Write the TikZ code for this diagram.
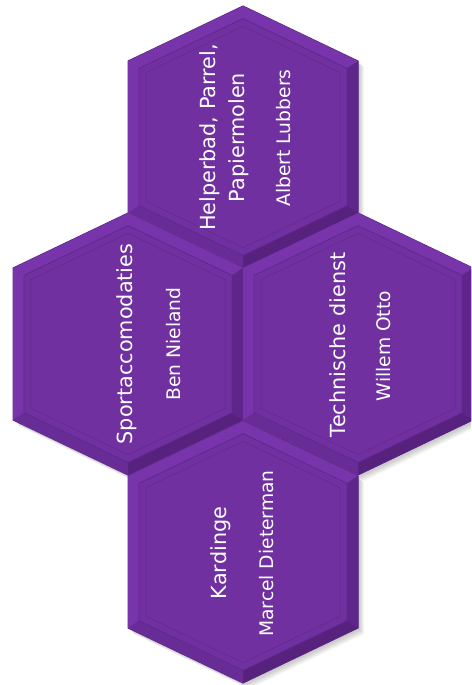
\documentclass[tikz,border=0pt]{standalone}
\usepackage{fontspec}
\newfontfamily\hexfont{DejaVu Sans}
\definecolor{hexface}{RGB}{112, 48, 160}
\definecolor{rimlight}{RGB}{120, 52, 170}
\definecolor{rimmid}{RGB}{104, 44, 150}
\definecolor{rimdark}{RGB}{94, 38, 138}
\definecolor{rimdeep}{RGB}{86, 34, 126}
\definecolor{hexline}{RGB}{98, 40, 142}
\newcommand{\hexshape}{(0,-131) -- (115,-76) -- (115,76) -- (0,131) -- (-115,76) -- (-115,-76) -- cycle}
\tikzset{
	hextitle/.style={rotate=90, inner sep=0pt, text=white, align=center, font=\hexfont\fontsize{20.8}{29}\selectfont},
	hexname/.style={rotate=90, inner sep=0pt, anchor=base, text=white, font=\hexfont\fontsize{18.7}{22}\selectfont},
	hexshadow/.style={fill=black, opacity=0.045},
	hexbase/.style={fill=rimdeep, draw=rimdeep, line width=1pt},
	hexcell/.pic={
		\fill[rimlight] \hexshape;
		\fill[rimdark] (115,-76) -- (115,76) -- (104,68.7) -- (104,-68.7) -- cycle;
		\fill[rimdeep] (115,76) -- (0,131) -- (0,118.4) -- (104,68.7) -- cycle;
		\fill[rimmid] (0,131) -- (-115,76) -- (-104,68.7) -- (0,118.4) -- cycle;
		\fill[hexface, scale=0.904] \hexshape;
		\draw[hexline, line width=0.8pt, scale=0.904] \hexshape;
		\draw[hexline, line width=0.5pt, scale=0.845] \hexshape;
	},
}

\begin{document}
\begin{tikzpicture}[x=1pt, y=-1pt]
	\useasboundingbox (0,0) rectangle (471,685);
	\clip (0,0) rectangle (471,685);
	\foreach \cx/\cy in {243/137, 128/344, 358/344, 243/552}
		\foreach \d in {2,...,6}
			\fill[hexshadow, shift={(\cx+\d,\cy+\d)}] \hexshape;
	\foreach \cx/\cy in {243/137, 128/344, 358/344, 243/552}
		\path[hexbase, shift={(\cx,\cy)}] \hexshape;
	\pic (cellA) at (243,137) {hexcell};
	\pic (cellB) at (128,344) {hexcell};
	\pic (cellC) at (358,344) {hexcell};
	\pic (cellD) at (243,552) {hexcell};
	\node[hextitle] (helper) at (224.5,137.5) {Helperbad, Parrel,\\Papiermolen};
	\node[hexname] (lubbers) at (290,138) {Albert Lubbers};
	\node[hextitle, anchor=base] (sport) at (132,344) {Sportaccomodaties};
	\node[hexname] (nieland) at (180,344) {Ben Nieland};
	\node[hextitle, anchor=base] (technisch) at (345,345) {Technische dienst};
	\node[hexname] (otto) at (390,346) {Willem Otto};
	\node[hextitle, anchor=base] (kardinge) at (226.7,553) {Kardinge};
	\node[hexname] (dieterman) at (273,553.5) {Marcel Dieterman};
\end{tikzpicture}
\end{document}
